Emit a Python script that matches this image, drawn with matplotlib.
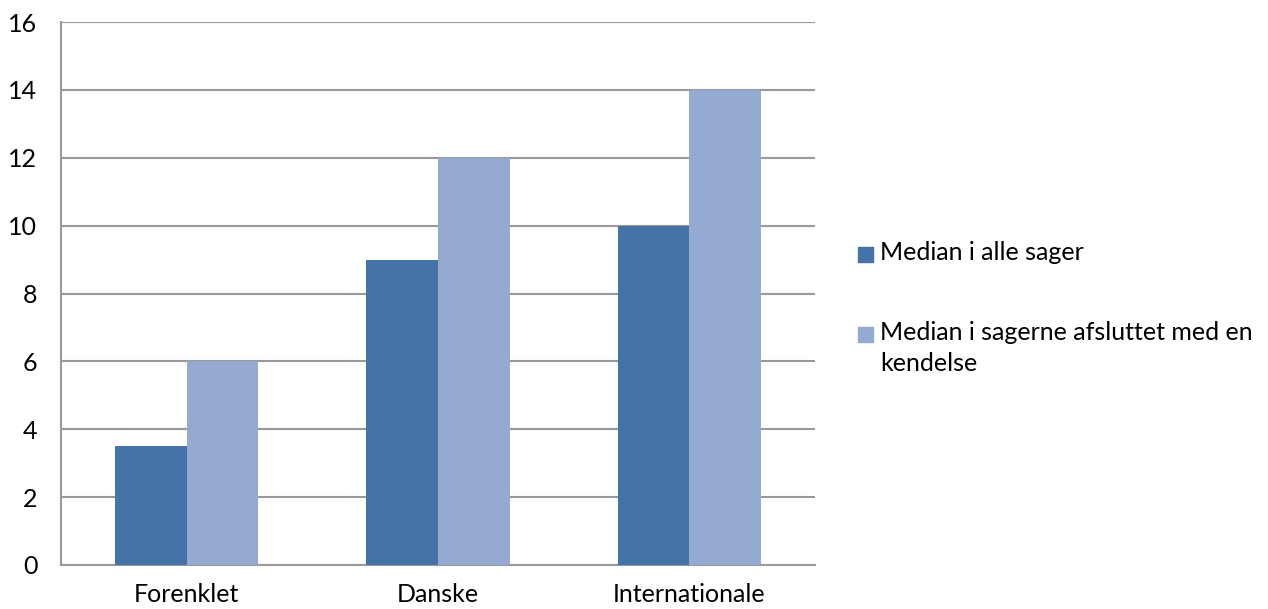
import matplotlib
matplotlib.use("Agg")
import matplotlib.pyplot as plt
from matplotlib.patches import Rectangle
import numpy as np

categories = ["Forenklet", "Danske", "Internationale"]
series_names = ["Median i alle sager", "Median i sagerne afsluttet med en\nkendelse"]
median_all = [3.5, 9, 10]
median_kendelse = [6, 12, 14]
yticks = [0, 2, 4, 6, 8, 10, 12, 14, 16]
colors = ["#4573A7", "#95AAD0"]

plt.rcParams['font.family'] = ['Lato', 'DejaVu Sans']
FS = 18

fig = plt.figure(figsize=(12.68, 6.09), dpi=100)
ax = fig.add_axes([61/1268, 1-565/609, (815-61)/1268, (565-22)/609])

x = np.arange(len(categories))
w = 0.285
ax.bar(x - w/2, median_all, w, color=colors[0], zorder=3)
ax.bar(x + w/2, median_kendelse, w, color=colors[1], zorder=3)

ax.set_xlim(-0.5, len(categories) - 0.5)
ax.set_ylim(0, 16)
ax.set_yticks(yticks)
ax.set_yticklabels([str(v) for v in yticks], fontsize=FS)
ax.set_xticks(x)
ax.set_xticklabels(categories, fontsize=FS)
ax.tick_params(axis='x', length=0, pad=13)
ax.tick_params(axis='y', length=0, pad=17)
ax.grid(axis='y', color='#999999', linewidth=1.5, zorder=0)
for s in ['top', 'right']:
    ax.spines[s].set_visible(False)
for s in ['left', 'bottom']:
    ax.spines[s].set_color('#999999')
    ax.spines[s].set_linewidth(1.5)

# legend drawn manually to keep square aligned to first line
ys = [255, 335]
for name, col, yp in zip(series_names, colors, ys):
    fig.patches.append(Rectangle((858/1268, 1-(yp+7)/609), 15/1268, 15/609,
                                 transform=fig.transFigure, color=col))
    fig.text(880/1268, 1-(yp-14)/609, name, fontsize=FS, va='top', ha='left',
             linespacing=1.4)

fig.savefig("out.png", dpi=100)
